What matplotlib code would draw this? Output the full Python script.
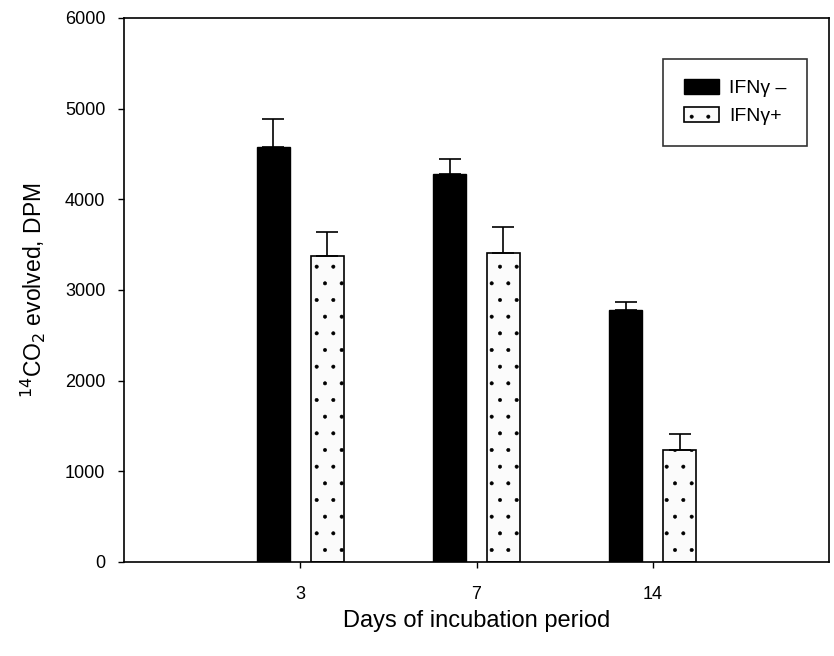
import numpy as np
import matplotlib as mpl
import matplotlib.pyplot as plt

days = ['3', '7', '14']
ifn_minus = [4580, 4280, 2780]
ifn_minus_err = [310, 160, 90]
ifn_plus = [3380, 3410, 1240]
ifn_plus_err = [260, 290, 170]

mpl.rcParams['font.family'] = ['Liberation Sans', 'DejaVu Sans']
mpl.rcParams['hatch.color'] = '#c4c4c4'
mpl.rcParams['hatch.linewidth'] = 0.4

fig = plt.figure(figsize=(8.34, 6.56), dpi=100)
axes = fig.add_axes([0.1487, 0.1433, 0.8453, 0.8293])

x = np.arange(1, len(days) + 1)
width = 0.187
offset = 0.153

# темные столбцы (IFNg -)
axes.bar(x - offset, ifn_minus, width, color='black', edgecolor='black',
         linewidth=1, label='IFNγ –')
axes.errorbar(x - offset, ifn_minus, yerr=[np.zeros(3), ifn_minus_err],
              fmt='none', ecolor='black', elinewidth=1.2, capsize=8,
              capthick=1.2)

# светлые столбцы с точками (IFNg +)
axes.bar(x + offset, ifn_plus, width, color='#fbfbfb', edgecolor='black',
         linewidth=1.2, hatch='.', label='IFNγ+')
axes.errorbar(x + offset, ifn_plus, yerr=[np.zeros(3), ifn_plus_err],
              fmt='none', ecolor='black', elinewidth=1.2, capsize=8,
              capthick=1.2)

axes.set_xlim(0, 4)
axes.set_ylim(0, 6000)
axes.set_xticks(x)
axes.set_xticklabels(days)
axes.set_yticks(np.arange(0, 6001, 1000))
axes.tick_params(axis='both', direction='out', length=4.5, width=1,
                 labelsize=13, top=False, right=False)
axes.tick_params(axis='x', pad=13)
axes.tick_params(axis='y', pad=9)
for sp in axes.spines.values():
    sp.set_linewidth(1.2)

axes.set_xlabel('Days of incubation period', fontsize=17, labelpad=5)
axes.set_ylabel('$^{14}$CO$_2$ evolved, DPM', fontsize=16.5, labelpad=12)

leg = axes.legend(loc='upper right', bbox_to_anchor=(0.969, 0.925),
                  fontsize=14, frameon=True, fancybox=False,
                  edgecolor='black', handlelength=1.8, handleheight=0.8,
                  handletextpad=0.55, borderpad=1.05, labelspacing=0.5,
                  borderaxespad=0)
leg.get_frame().set_linewidth(1.2)

fig.savefig('out.png', dpi=100)
plt.close(fig)
